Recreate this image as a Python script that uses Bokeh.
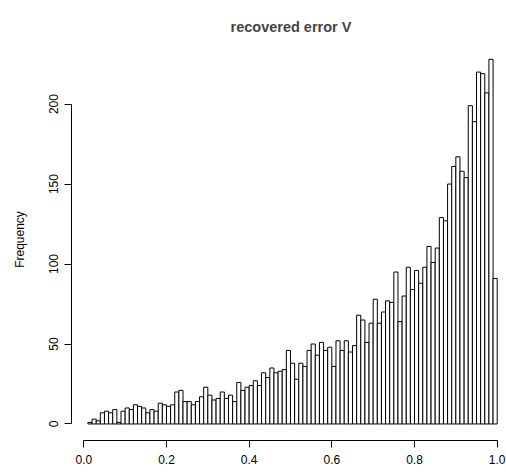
from bokeh.plotting import figure
from bokeh.models import Range1d, FixedTicker, NumeralTickFormatter, LinearAxis
from bokeh.embed import file_html
from bokeh.resources import INLINE

# histogram: breaks from 0.01 to 1.00 by 0.01
bin_start = 0.01
bin_width = 0.01
counts = [1, 3, 2, 7, 8, 7, 9, 1, 8, 10,
          9, 12, 11, 10, 7, 9, 8, 13, 12, 11,
          12, 20, 21, 14, 14, 12, 14, 17, 23, 18,
          15, 16, 20, 16, 18, 14, 26, 21, 23, 24,
          27, 24, 32, 29, 35, 32, 33, 34, 46, 38,
          28, 38, 36, 46, 50, 43, 51, 46, 48, 36,
          52, 46, 52, 45, 49, 68, 65, 51, 63, 78,
          63, 70, 77, 76, 95, 64, 80, 98, 84, 96,
          88, 98, 111, 101, 110, 129, 127, 150, 161, 167,
          158, 154, 199, 189, 220, 219, 207, 228, 91]
x_ticks = [0.0, 0.2, 0.4, 0.6, 0.8, 1.0]
y_ticks = [0, 50, 100, 150, 200]
title_text = "recovered error V"
y_label = "Frequency"

lefts = [round(bin_start + i * bin_width, 4) for i in range(len(counts))]
rights = [round(l + bin_width, 4) for l in lefts]

FONT = "Liberation Sans"

p = figure(width=506, height=472, output_backend="svg", toolbar_location=None,
           x_range=Range1d(-0.02975, 1.0225), y_range=Range1d(-10.33, 241.0),
           min_border_left=71, min_border_right=0, min_border_top=38,
           min_border_bottom=32)
p.title.text = title_text
p.title.align = "left"
p.title.offset = 159
p.title.text_font = FONT
p.title.text_font_size = "14.5px"
p.title.text_font_style = "bold"
p.title.standoff = 8

xa = p.below[0]
ya = p.left[0]

# invisible spacer axis between the title and the bars
spacer = LinearAxis(ticker=FixedTicker(ticks=[0.5]), axis_line_color=None,
                    major_tick_line_color=None, minor_tick_line_color=None,
                    major_tick_out=0, major_tick_in=0, minor_tick_out=0,
                    major_label_standoff=0, major_label_text_font_size="11px",
                    major_label_text_color="white", major_label_text_alpha=0)
p.add_layout(spacer, "above")

p.background_fill_color = "white"
p.border_fill_color = "white"
p.outline_line_color = None
p.xgrid.visible = False
p.ygrid.visible = False

p.quad(left=lefts, right=rights, bottom=0, top=counts,
       fill_color="white", line_color="black", line_width=1)

xa.ticker = FixedTicker(ticks=x_ticks)
xa.formatter = NumeralTickFormatter(format="0.0")
xa.bounds = (0, 1)
xa.minor_tick_line_color = None
xa.major_tick_out = 7
xa.major_tick_in = 0
xa.major_label_standoff = 7
xa.major_label_text_font = FONT
xa.major_label_text_font_size = "12px"
xa.major_label_text_color = "black"
xa.axis_line_color = "black"
xa.major_tick_line_color = "black"

ya.ticker = FixedTicker(ticks=y_ticks)
ya.bounds = (0, 200)
ya.minor_tick_line_color = None
ya.major_tick_out = 7
ya.major_tick_in = 0
ya.major_label_standoff = 6
ya.major_label_orientation = "vertical"
ya.major_label_text_font = FONT
ya.major_label_text_font_size = "12px"
ya.major_label_text_color = "black"
ya.axis_label = y_label
ya.axis_label_text_font = FONT
ya.axis_label_text_font_size = "12px"
ya.axis_label_text_font_style = "normal"
ya.axis_label_text_color = "black"
ya.axis_label_standoff = 20

open("out.html", "w").write(file_html(p, INLINE))
